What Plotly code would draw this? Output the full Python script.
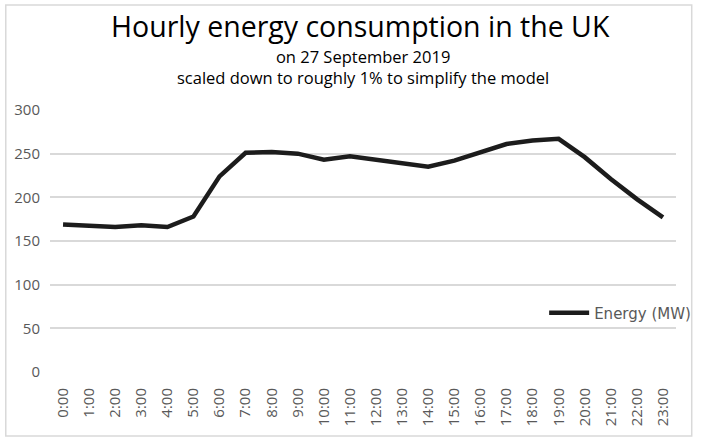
import plotly.graph_objects as go

hours = [f"{h}:00" for h in range(24)]
energy = [169, 167, 166, 168, 166, 178, 224, 251, 252, 250, 243, 247,
          243, 239, 235, 242, 251, 261, 265, 267, 246, 221, 198, 177]
y_ticks = [0, 50, 100, 150, 200, 250, 300]

L, R, T, B = 50, 21, 110, 68
W, H = 708, 440
pw = W - L - R
ph = H - T - B

def px_x(p):
    return (p - L) / pw

def px_y(p):
    return (H - B - p) / ph

fig = go.Figure()
fig.add_trace(go.Scatter(
    x=hours, y=energy, mode="lines", name="Energy (MW)",
    line=dict(color="#1c1c1c", width=4.5),
))

fig.update_layout(
    width=W, height=H,
    margin=dict(l=L, r=R, t=T, b=B),
    paper_bgcolor="white", plot_bgcolor="white",
    font=dict(family="Open Sans", color="#595959"),
    showlegend=True,
    legend=dict(
        x=px_x(707.5), xanchor="right", y=px_y(313), yanchor="middle",
        font=dict(family="DejaVu Sans", size=15, color="#595959"),
        bgcolor="rgba(0,0,0,0)", itemwidth=40,
    ),
    xaxis=dict(
        type="category", range=[-0.5, 23.5], tickangle=-90,
        showgrid=False, showline=False, ticks="", ticklabelstandoff=12,
        tickfont=dict(family="Open Sans", size=15, color="#595959"),
    ),
    yaxis=dict(
        range=[0, 300], tickvals=y_ticks, showgrid=True,
        gridcolor="#d9d9d9", gridwidth=1.5, zeroline=False,
        showline=False, ticks="", ticklen=0, ticklabelstandoff=9,
        tickfont=dict(family="Open Sans", size=15, color="#595959"),
    ),
    annotations=[
        dict(text="Hourly energy consumption in the UK", x=px_x(366), y=px_y(26),
             xref="paper", yref="paper", showarrow=False, xanchor="center", yanchor="middle",
             font=dict(family="Open Sans", size=28.5, color="#000000")),
        dict(text="on 27 September 2019<br>scaled down to roughly 1% to simplify the model",
             x=px_x(369), y=px_y(67),
             xref="paper", yref="paper", showarrow=False, xanchor="center", yanchor="middle",
             font=dict(family="Open Sans", size=16.5, color="#000000")),
    ],
    shapes=[
        dict(type="rect", xref="paper", yref="paper",
             x0=px_x(5), x1=px_x(703), y0=px_y(436), y1=px_y(5),
             line=dict(color="#d9d9d9", width=1.5), fillcolor="rgba(0,0,0,0)", layer="below"),
    ],
)

fig.write_html("out.html", config={"displayModeBar": False},
               post_script="document.body.style.margin='0';")
